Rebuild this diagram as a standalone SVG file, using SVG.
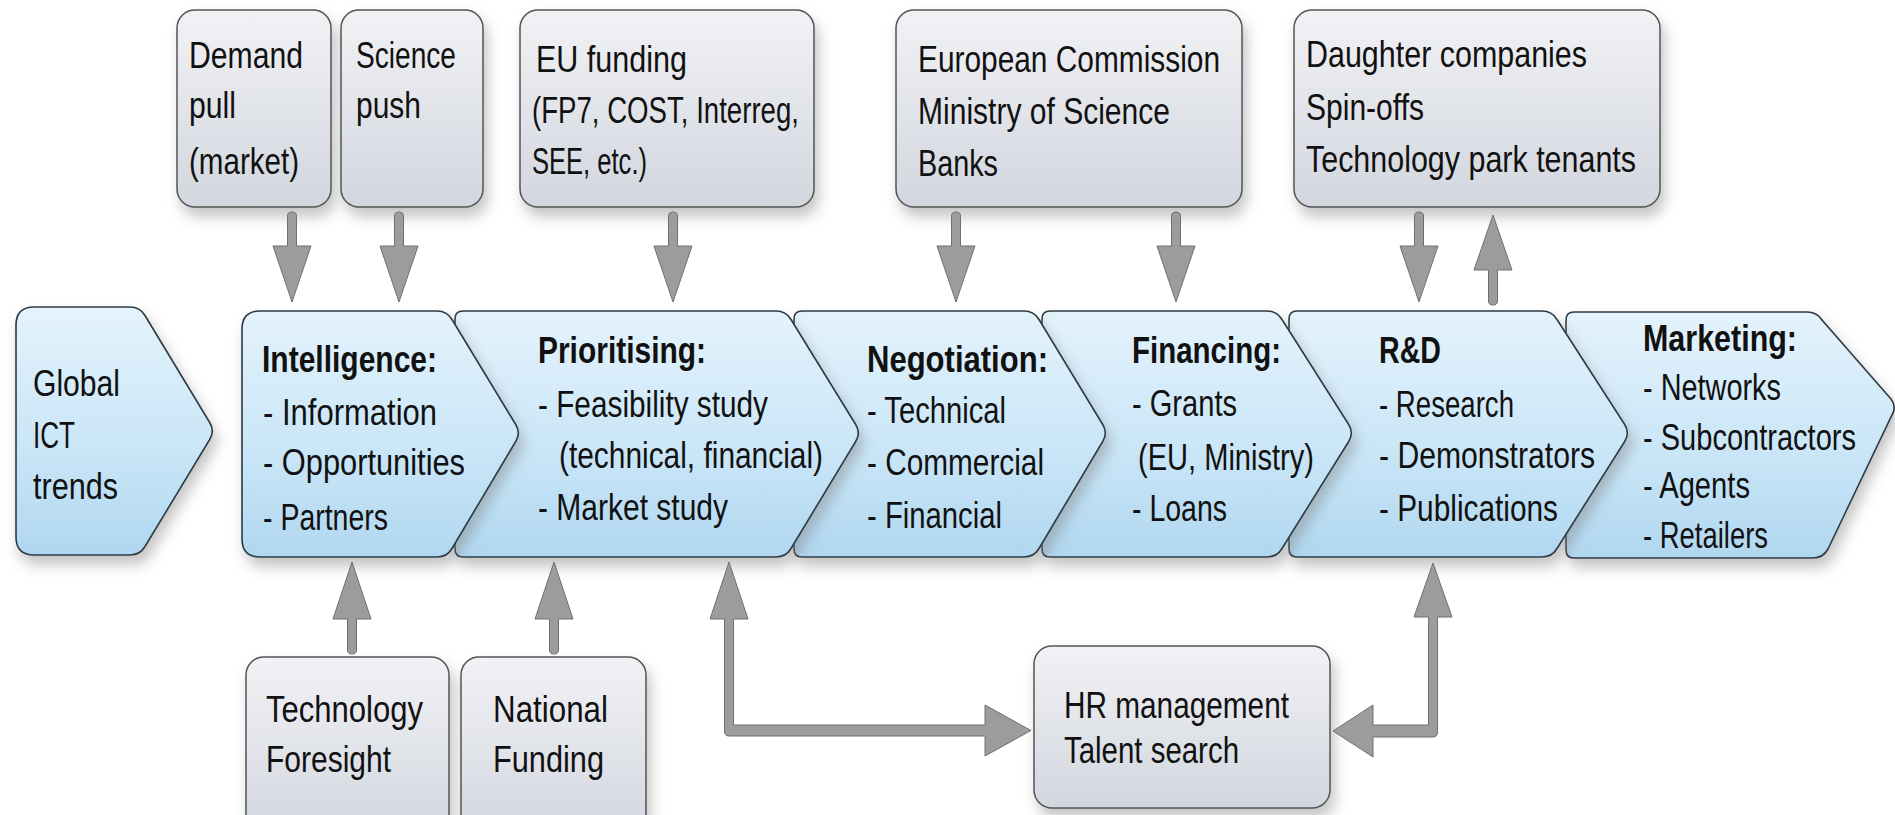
<svg xmlns="http://www.w3.org/2000/svg" width="1895" height="815" viewBox="0 0 1895 815">
<defs>
<linearGradient id="gBlue" x1="0" y1="0" x2="0" y2="1">
<stop offset="0" stop-color="#e4f3fc"/>
<stop offset="0.6" stop-color="#c8e5f7"/>
<stop offset="1" stop-color="#b0d7f0"/>
</linearGradient>
<linearGradient id="gGray" x1="0" y1="0" x2="0" y2="1">
<stop offset="0" stop-color="#f1f2f5"/>
<stop offset="1" stop-color="#d2d6de"/>
</linearGradient>
<filter id="sh" x="-10%" y="-10%" width="130%" height="140%">
<feDropShadow dx="4" dy="9" stdDeviation="7" flood-color="#7a7a7a" flood-opacity="0.45"/>
</filter>
</defs>
<style>
.chev{fill:url(#gBlue);stroke:#2c3a44;stroke-width:1.6;filter:url(#sh)}
.box{fill:url(#gGray);stroke:#545454;stroke-width:1.5;filter:url(#sh)}
.arr{fill:#9c9c9c;stroke:#707070;stroke-width:1}
text{font-family:"Liberation Sans Narrow","Liberation Sans",sans-serif;font-size:36px;fill:#111}
.b{font-weight:bold}
</style>
<rect width="1895" height="815" fill="#ffffff"/>

<!-- top boxes -->
<g id="demand-pull">
<rect class="box" x="177" y="10" width="154" height="197" rx="18"/>
<text x="189" y="68" textLength="114" lengthAdjust="spacingAndGlyphs">Demand</text>
<text x="189" y="118" textLength="47" lengthAdjust="spacingAndGlyphs">pull</text>
<text x="189" y="174" textLength="110" lengthAdjust="spacingAndGlyphs">(market)</text>
</g>
<g id="science-push">
<rect class="box" x="341" y="10" width="142" height="197" rx="18"/>
<text x="356" y="68" textLength="100" lengthAdjust="spacingAndGlyphs">Science</text>
<text x="356" y="118" textLength="65" lengthAdjust="spacingAndGlyphs">push</text>
</g>
<g id="eu-funding">
<rect class="box" x="520" y="10" width="294" height="197" rx="18"/>
<text x="536" y="72" textLength="151" lengthAdjust="spacingAndGlyphs">EU funding</text>
<text x="532" y="123" textLength="267" lengthAdjust="spacingAndGlyphs">(FP7, COST, Interreg,</text>
<text x="532" y="174" textLength="115" lengthAdjust="spacingAndGlyphs">SEE, etc.)</text>
</g>
<g id="european-commission">
<rect class="box" x="896" y="10" width="346" height="197" rx="18"/>
<text x="918" y="72" textLength="302" lengthAdjust="spacingAndGlyphs">European Commission</text>
<text x="918" y="124" textLength="252" lengthAdjust="spacingAndGlyphs">Ministry of Science</text>
<text x="918" y="176" textLength="80" lengthAdjust="spacingAndGlyphs">Banks</text>
</g>
<g id="daughter-companies">
<rect class="box" x="1294" y="10" width="366" height="197" rx="18"/>
<text x="1306" y="67" textLength="281" lengthAdjust="spacingAndGlyphs">Daughter companies</text>
<text x="1306" y="120" textLength="118" lengthAdjust="spacingAndGlyphs">Spin-offs</text>
<text x="1306" y="172" textLength="330" lengthAdjust="spacingAndGlyphs">Technology park tenants</text>
</g>

<!-- bottom boxes -->
<g id="technology-foresight">
<rect class="box" x="246" y="657" width="203" height="180" rx="18"/>
<text x="266" y="722" textLength="157" lengthAdjust="spacingAndGlyphs">Technology</text>
<text x="266" y="772" textLength="125" lengthAdjust="spacingAndGlyphs">Foresight</text>
</g>
<g id="national-funding">
<rect class="box" x="461" y="657" width="185" height="180" rx="18"/>
<text x="493" y="722" textLength="115" lengthAdjust="spacingAndGlyphs">National</text>
<text x="493" y="772" textLength="111" lengthAdjust="spacingAndGlyphs">Funding</text>
</g>
<g id="hr-management">
<rect class="box" x="1034" y="646" width="296" height="162" rx="18"/>
<text x="1064" y="718" textLength="225" lengthAdjust="spacingAndGlyphs">HR management</text>
<text x="1064" y="763" textLength="175" lengthAdjust="spacingAndGlyphs">Talent search</text>
</g>

<!-- chevrons, drawn right to left -->
<g id="marketing">
<path class="chev" d="M1574,312 H1807 Q1817,312 1822,320 L1891,399 Q1897,407 1892,415 L1828,549 Q1823,558 1813,558 H1574 Q1566,558 1566,550 V320 Q1566,312 1574,312 Z"/>
<text class="b" x="1643" y="351" textLength="154" lengthAdjust="spacingAndGlyphs">Marketing:</text>
<text x="1643" y="400" textLength="138" lengthAdjust="spacingAndGlyphs">- Networks</text>
<text x="1643" y="450" textLength="213" lengthAdjust="spacingAndGlyphs">- Subcontractors</text>
<text x="1643" y="498" textLength="107" lengthAdjust="spacingAndGlyphs">- Agents</text>
<text x="1643" y="548" textLength="125" lengthAdjust="spacingAndGlyphs">- Retailers</text>
</g>
<g id="rnd">
<path class="chev" d="M1297,311 H1542 Q1552,311 1557,319.5 L1624.7,424.5 Q1630,433 1624.7,441.5 L1557,548.5 Q1552,557 1542,557 H1297 Q1289,557 1289,549 V319 Q1289,311 1297,311 Z"/>
<text class="b" x="1379" y="363" textLength="62" lengthAdjust="spacingAndGlyphs">R&amp;D</text>
<text x="1379" y="417" textLength="135" lengthAdjust="spacingAndGlyphs">- Research</text>
<text x="1379" y="468" textLength="216" lengthAdjust="spacingAndGlyphs">- Demonstrators</text>
<text x="1379" y="521" textLength="179" lengthAdjust="spacingAndGlyphs">- Publications</text>
</g>
<g id="financing">
<path class="chev" d="M1050,311 H1267 Q1277,311 1282,319.5 L1348.7,424.5 Q1354,433 1348.7,441.5 L1282,548.5 Q1277,557 1267,557 H1050 Q1042,557 1042,549 V319 Q1042,311 1050,311 Z"/>
<text class="b" x="1132" y="363" textLength="149" lengthAdjust="spacingAndGlyphs">Financing:</text>
<text x="1132" y="416" textLength="105" lengthAdjust="spacingAndGlyphs">- Grants</text>
<text x="1138" y="470" textLength="176" lengthAdjust="spacingAndGlyphs">(EU, Ministry)</text>
<text x="1132" y="521" textLength="95" lengthAdjust="spacingAndGlyphs">- Loans</text>
</g>
<g id="negotiation">
<path class="chev" d="M802,311 H1024 Q1034,311 1039,319.5 L1102.7,424.5 Q1108,433 1102.7,441.5 L1039,548.5 Q1034,557 1024,557 H802 Q794,557 794,549 V319 Q794,311 802,311 Z"/>
<text class="b" x="867" y="372" textLength="181" lengthAdjust="spacingAndGlyphs">Negotiation:</text>
<text x="867" y="423" textLength="139" lengthAdjust="spacingAndGlyphs">- Technical</text>
<text x="867" y="475" textLength="177" lengthAdjust="spacingAndGlyphs">- Commercial</text>
<text x="867" y="528" textLength="135" lengthAdjust="spacingAndGlyphs">- Financial</text>
</g>
<g id="prioritising">
<path class="chev" d="M463,311 H776 Q786,311 791,319.5 L855.7,424.5 Q861,433 855.7,441.5 L791,548.5 Q786,557 776,557 H463 Q455,557 455,549 V319 Q455,311 463,311 Z"/>
<text class="b" x="538" y="363" textLength="168" lengthAdjust="spacingAndGlyphs">Prioritising:</text>
<text x="538" y="417" textLength="230" lengthAdjust="spacingAndGlyphs">- Feasibility study</text>
<text x="559" y="468" textLength="264" lengthAdjust="spacingAndGlyphs">(technical, financial)</text>
<text x="538" y="520" textLength="190" lengthAdjust="spacingAndGlyphs">- Market study</text>
</g>
<g id="intelligence">
<path class="chev" d="M260,311 H437 Q447,311 452,319.5 L515.7,424.5 Q521,433 515.7,441.5 L452,548.5 Q447,557 437,557 H260 Q242,557 242,539 V329 Q242,311 260,311 Z"/>
<text class="b" x="262" y="372" textLength="175" lengthAdjust="spacingAndGlyphs">Intelligence:</text>
<text x="263" y="425" textLength="174" lengthAdjust="spacingAndGlyphs">- Information</text>
<text x="263" y="475" textLength="202" lengthAdjust="spacingAndGlyphs">- Opportunities</text>
<text x="263" y="530" textLength="125" lengthAdjust="spacingAndGlyphs">- Partners</text>
</g>
<g id="global-ict-trends">
<path class="chev" d="M34,307 H130 Q140,307 145,315.5 L209.7,422.5 Q215,431 209.7,439.5 L145,546.5 Q140,555 130,555 H34 Q16,555 16,537 V325 Q16,307 34,307 Z"/>
<text x="33" y="396" textLength="87" lengthAdjust="spacingAndGlyphs">Global</text>
<text x="33" y="448" textLength="42" lengthAdjust="spacingAndGlyphs">ICT</text>
<text x="33" y="499" textLength="85" lengthAdjust="spacingAndGlyphs">trends</text>
</g>

<!-- connectors -->
<g id="connectors">
<path class="arr" d="M287.5,216 Q287.5,212 292,212 Q296.5,212 296.5,216 V246 H311 L292,302 L273,246 H287.5 Z"/>
<path class="arr" d="M394.5,216 Q394.5,212 399,212 Q403.5,212 403.5,216 V246 H418 L399,302 L380,246 H394.5 Z"/>
<path class="arr" d="M668.5,216 Q668.5,212 673,212 Q677.5,212 677.5,216 V246 H692 L673,302 L654,246 H668.5 Z"/>
<path class="arr" d="M951.5,216 Q951.5,212 956,212 Q960.5,212 960.5,216 V246 H975 L956,302 L937,246 H951.5 Z"/>
<path class="arr" d="M1171.5,216 Q1171.5,212 1176,212 Q1180.5,212 1180.5,216 V246 H1195 L1176,302 L1157,246 H1171.5 Z"/>
<path class="arr" d="M1414.5,216 Q1414.5,212 1419,212 Q1423.5,212 1423.5,216 V246 H1438 L1419,302 L1400,246 H1414.5 Z"/>
<path class="arr" d="M1493,215 L1512,270 H1497.5 V301 Q1497.5,305 1493,305 Q1488.5,305 1488.5,301 V270 H1474 Z"/>
<path class="arr" d="M352,562 L371,619 H356.5 V650 Q356.5,654 352,654 Q347.5,654 347.5,650 V619 H333 Z"/>
<path class="arr" d="M554,562 L573,619 H558.5 V650 Q558.5,654 554,654 Q549.5,654 549.5,650 V619 H535 Z"/>
<path class="arr" d="M729,562 L748,619 H733.5 V725 H985 V705 L1031,730.5 L985,756 V736 H729 Q724.5,736 724.5,731 V619 H710 Z"/>
<path class="arr" d="M1433,563 L1452,617 H1437.5 V732 Q1437.5,737 1433,737 H1373 V757 L1333,731 L1373,705 V725 H1428.5 V617 H1414 Z"/>
</g>
</svg>
